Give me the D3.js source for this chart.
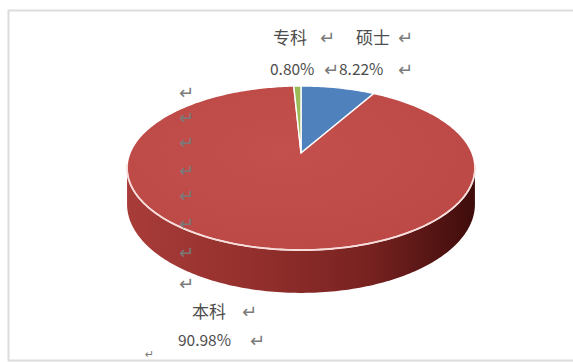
<!DOCTYPE html>
<html>
<head>
<meta charset="utf-8">
<script src="https://cdn.jsdelivr.net/npm/d3@7"></script>
<style>
  html, body { margin: 0; padding: 0; background: #fff; }
  svg { display: block; }
  .lbl { font-family: "Noto Sans CJK SC", "Noto Sans", sans-serif; fill: #4d4d4d; }
  .mark { font-family: "DejaVu Sans", sans-serif; fill: #7a7a7a; }
</style>
</head>
<body>
<svg id="chart"></svg>
<script>
// data
const categories = ['硕士', '本科', '专科'];
const shares = [8.22, 90.98, 0.80];
const sliceColors = ['#4f81bd', '#c0504d', '#9bbb59'];
const shareLabels = ['8.22%', '90.98%', '0.80%'];

const width = 573;
const height = 362;

const svg = d3.select('#chart')
    .attr('width', width)
    .attr('height', height);

// frame of the pasted chart
svg.append('rect')
    .attr('x', 8.5).attr('y', 10.5)
    .attr('width', width + 10).attr('height', height - 12)
    .attr('fill', 'none')
    .attr('stroke', '#dcdcdc')
    .attr('stroke-width', 2);

// 3d perspective pie geometry
const cx = 301, cy = 153;
const R = 171, ry = 79.3, k = 0.183, depth = 35;

function proj(a) {
    const u = Math.sin(a), v = -Math.cos(a);
    const w = 1 - k * v;
    return [cx + R * u / w, cy + ry * v / w, w];
}

function sampleAngles(a0, a1) {
    const n = Math.max(2, Math.ceil((a1 - a0) / (Math.PI / 180)));
    return d3.range(n + 1).map(i => a0 + (a1 - a0) * i / n);
}

const pie = d3.pie().sort(null).value(d => d);
const arcs = pie(shares);

const defs = svg.append('defs');
const sideGrad = defs.append('linearGradient')
    .attr('id', 'side-grad')
    .attr('x1', '0%').attr('x2', '100%').attr('y1', '0%').attr('y2', '0%');
[['0%', '#a83c39'], ['35%', '#94302d'], ['70%', '#772220'], ['100%', '#3e0c0b']].forEach(s => {
    sideGrad.append('stop').attr('offset', s[0]).attr('stop-color', s[1]);
});

const topGrad = defs.append('radialGradient')
    .attr('id', 'top-grad')
    .attr('cx', '45%').attr('cy', '40%').attr('r', '70%');
topGrad.append('stop').attr('offset', '0%').attr('stop-color', '#c4504d');
topGrad.append('stop').attr('offset', '100%').attr('stop-color', '#bb4845');

// visible side range (silhouette of the cylinder)
const visA0 = Math.acos(-k);
const visA1 = 2 * Math.PI - visA0;

const line = d3.line();

arcs.forEach((d, i) => {
    const a0 = Math.max(d.startAngle, visA0);
    const a1 = Math.min(d.endAngle, visA1);
    if (a1 <= a0) return;
    const angs = sampleAngles(a0, a1);
    const topPts = angs.map(a => { const p = proj(a); return [p[0], p[1]]; });
    const botPts = angs.map(a => { const p = proj(a); return [p[0], p[1] + depth / p[2]]; }).reverse();
    svg.append('path')
        .attr('d', line(topPts.concat(botPts)) + 'Z')
        .attr('fill', i === 1 ? 'url(#side-grad)' : d3.color(sliceColors[i]).darker(1));
});

// top faces
arcs.forEach((d, i) => {
    const pts = [[cx, cy]].concat(sampleAngles(d.startAngle, d.endAngle).map(a => proj(a).slice(0, 2)));
    svg.append('path')
        .attr('d', line(pts) + 'Z')
        .attr('fill', i === 1 ? 'url(#top-grad)' : sliceColors[i])
        .attr('stroke', '#ffffff')
        .attr('stroke-width', 1.4)
        .attr('stroke-linejoin', 'round');
});

// light rim on the front edge of the top face
const rimPts = sampleAngles(visA0 - 0.05, visA1 + 0.05).map(a => proj(a).slice(0, 2));
svg.append('path')
    .attr('d', line(rimPts))
    .attr('fill', 'none')
    .attr('stroke', '#f6dcda')
    .attr('stroke-width', 1.8);

// labels
function label(x, y, txt, size) {
    svg.append('text')
        .attr('class', 'lbl')
        .attr('x', x).attr('y', y)
        .attr('dominant-baseline', 'central')
        .attr('font-size', size)
        .text(txt);
}
function mark(x, y, size) {
    svg.append('text')
        .attr('class', 'mark')
        .attr('x', x).attr('y', y)
        .attr('dominant-baseline', 'central')
        .attr('font-size', size || 18)
        .text('↵');
}

label(273, 36, categories[2], 17);
mark(320, 37);
label(356, 36, categories[0], 17);
mark(398, 37);
label(270, 68, shareLabels[2], 15.5);
mark(324, 69);
label(339, 68, shareLabels[0], 15.5);
mark(398, 69);

label(192, 310, categories[1], 17);
mark(242, 311);
label(178, 339, shareLabels[1], 15.5);
mark(250, 340);

[92, 117, 142, 170, 195, 223, 252, 283].forEach(y => mark(179, y));
mark(145, 354, 11);
</script>
</body>
</html>
